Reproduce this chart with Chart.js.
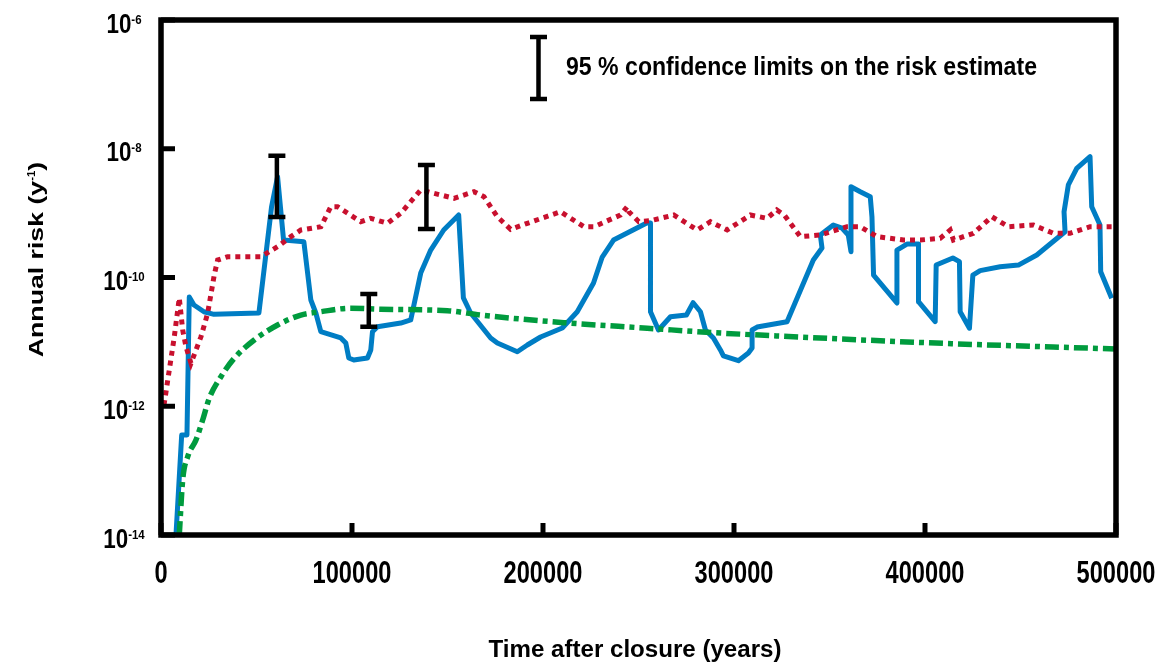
<!DOCTYPE html>
<html>
<head>
<meta charset="utf-8">
<script src="https://cdn.jsdelivr.net/npm/chart.js@4.4.1/dist/chart.umd.min.js"></script>
<style>
html,body{margin:0;padding:0;background:#fff;}
#wrap{width:1162px;height:668px;position:relative;}
</style>
</head>
<body>
<div id="wrap"><canvas id="c" width="1162" height="668"></canvas></div>
<script>
// ---- Data ----
const xTicks = [0, 100000, 200000, 300000, 400000, 500000];
const yTickExps = [-6, -8, -10, -12, -14];

// Calculated risk (solid blue)
const blueX = [7845, 10826, 13598, 14801, 17259, 22490, 27720, 51255, 57896, 61034, 64172, 74790, 78450, 81065, 83680, 94140, 96755, 98324, 100939, 108104, 109830, 110719, 113334, 125520, 130750, 135980, 141210, 148010, 155855, 158313, 162130, 172590, 176094, 186554, 191784, 198740, 210089, 217934, 226460, 231010, 236920, 254545, 256270, 256270, 260450, 266730, 275100, 278600, 282425, 285040, 289225, 292885, 294455, 302300, 307530, 309470, 309470, 312085, 327775, 341530, 346080, 345190, 352000, 356540, 359840, 361250, 361250, 366110, 371340, 372230, 373066, 385305, 385305, 390535, 396600, 396600, 405330, 405850, 414590, 418040, 418410, 423270, 425050, 428870, 439330, 448900, 458520, 473320, 472800, 475050, 479440, 486400, 487290, 491620, 491990, 497740];
const blueY = [1e-14, 3.57e-13, 3.57e-13, 4.98e-11, 3.74e-11, 2.94e-11, 2.68e-11, 2.81e-11, 1.26e-9, 3.68e-9, 3.82e-10, 3.60e-10, 4.47e-11, 2.81e-11, 1.44e-11, 1.15e-11, 9.6e-12, 5.62e-12, 5.23e-12, 5.62e-12, 7.48e-12, 1.44e-11, 1.72e-11, 1.96e-11, 2.19e-11, 1.17e-10, 2.67e-10, 5.47e-10, 9.35e-10, 4.81e-11, 2.81e-11, 1.15e-11, 9.6e-12, 7.03e-12, 8.94e-12, 1.19e-11, 1.64e-11, 2.94e-11, 8.22e-11, 2.08e-10, 3.82e-10, 7.10e-10, 7.03e-10, 2.94e-11, 1.53e-11, 2.46e-11, 2.61e-11, 4.06e-11, 2.94e-11, 1.53e-11, 1.15e-11, 7.48e-12, 6.04e-12, 5.1e-12, 6.71e-12, 8.03e-12, 1.53e-11, 1.70e-11, 2.06e-11, 1.87e-10, 2.87e-10, 4.57e-10, 6.54e-10, 5.87e-10, 4.57e-10, 2.52e-10, 2.57e-9, 2.15e-9, 1.80e-9, 8.79e-10, 1.09e-10, 4.02e-11, 2.67e-10, 3.31e-10, 3.31e-10, 4.21e-11, 2.06e-11, 1.56e-10, 2.01e-10, 1.76e-10, 2.94e-11, 1.63e-11, 1.09e-10, 1.28e-10, 1.47e-10, 1.56e-10, 2.24e-10, 5.14e-10, 1.05e-9, 2.74e-9, 4.97e-9, 7.53e-9, 1.26e-9, 6.54e-10, 1.23e-10, 4.75e-11];

// Red dotted curve
const redX = [1569, 6956, 9571, 11349, 13075, 15690, 20920, 24424, 27876, 29654, 34884, 52300, 61034, 67990, 73220, 83680, 88910, 92414, 104600, 109830, 118570, 125520, 135980, 142940, 153400, 163860, 169090, 176094, 183055, 191784, 209200, 221390, 226620, 240580, 244084, 244920, 250150, 256270, 268460, 280700, 287650, 296390, 308570, 317300, 322400, 326340, 334720, 345190, 359150, 366110, 374840, 388760, 397480, 407940, 413170, 414900, 425360, 434990, 443670, 456740, 467200, 475930, 486390, 497900];
const redY = [1.04e-12, 1.20e-11, 4.81e-11, 1.53e-11, 8.41e-12, 4.65e-12, 1.20e-11, 2.78e-11, 1.09e-10, 1.87e-10, 2.10e-10, 2.10e-10, 3.01e-10, 4.31e-10, 5.47e-10, 6.15e-10, 1.26e-9, 1.26e-9, 7.36e-10, 8.31e-10, 6.95e-10, 9.93e-10, 2.29e-9, 2.03e-9, 1.70e-9, 2.15e-9, 1.80e-9, 8.79e-10, 5.61e-10, 6.95e-10, 1.05e-9, 6.15e-10, 6.15e-10, 9.35e-10, 1.26e-9, 1.05e-9, 7.36e-10, 7.62e-10, 9.35e-10, 5.47e-10, 7.36e-10, 5.47e-10, 9.35e-10, 8.31e-10, 1.12e-9, 9.35e-10, 4.31e-10, 4.57e-10, 6.15e-10, 6.15e-10, 4.31e-10, 3.82e-10, 3.82e-10, 4.06e-10, 5.47e-10, 3.82e-10, 4.86e-10, 8.79e-10, 6.15e-10, 6.54e-10, 4.86e-10, 4.86e-10, 6.15e-10, 6.15e-10];

// Green dash-dot curve
const greenX = [9571, 11349, 13964, 18305, 21810, 25262, 31380, 38336, 48796, 61034, 73220, 83680, 99370, 115060, 149945, 167360, 210930, 254550, 289380, 324260, 401000, 500000];
const greenY = [1e-14, 7.14e-14, 1.64e-13, 2.99e-13, 6.11e-13, 1.33e-12, 2.88e-12, 5.56e-12, 1.07e-11, 1.83e-11, 2.61e-11, 2.94e-11, 3.33e-11, 3.21e-11, 3.05e-11, 2.61e-11, 1.99e-11, 1.63e-11, 1.39e-11, 1.23e-11, 9.7e-12, 7.74e-12];

// 95 % confidence limits
const errX = [60670, 138960, 108790];
const errLow = [8.71e-10, 5.66e-10, 1.72e-11];
const errHigh = [7.80e-9, 5.60e-9, 5.55e-11];

const legendText = '95 % confidence limits on the risk estimate';
const xTitle = 'Time after closure (years)';
const yTitleMain = 'Annual risk (y';
const yTitleSup = '-1';
const yTitleEnd = ')';

// ---- Helpers ----
const FONT = '"Liberation Sans", Arial, Helvetica, sans-serif';
function drawFit(ctx, s, x, y, size, sx, align) {
  ctx.save();
  ctx.font = 'bold ' + size + 'px ' + FONT;
  const w = ctx.measureText(s).width * sx;
  let x0 = x;
  if (align === 'center') x0 = x - w / 2;
  else if (align === 'right') x0 = x - w;
  ctx.translate(x0, y);
  ctx.scale(sx, 1);
  ctx.textAlign = 'left';
  ctx.textBaseline = 'alphabetic';
  ctx.fillStyle = '#000';
  ctx.fillText(s, 0, 0);
  ctx.restore();
  return w;
}
function measure(ctx, s, size, sx) {
  ctx.save();
  ctx.font = 'bold ' + size + 'px ' + FONT;
  const w = ctx.measureText(s).width * sx;
  ctx.restore();
  return w;
}
function sxFor(ctx, s, size, width) {
  return width / measure(ctx, s, size, 1);
}

const decor = {
  id: 'decor',
  afterDatasetsDraw(chart) {
    const ctx = chart.ctx;
    const xs = chart.scales.x, ys = chart.scales.y;
    ctx.save();
    ctx.strokeStyle = '#000';
    ctx.lineWidth = 4.5;
    ctx.lineCap = 'butt';
    for (let i = 0; i < errX.length; i++) {
      const px = xs.getPixelForValue(errX[i]);
      const pTop = ys.getPixelForValue(errHigh[i]);
      const pBot = ys.getPixelForValue(errLow[i]);
      ctx.beginPath();
      ctx.moveTo(px, pTop); ctx.lineTo(px, pBot);
      ctx.moveTo(px - 8.5, pTop); ctx.lineTo(px + 8.5, pTop);
      ctx.moveTo(px - 8.5, pBot); ctx.lineTo(px + 8.5, pBot);
      ctx.stroke();
    }
    ctx.restore();
  },
  afterDraw(chart) {
    const ctx = chart.ctx;
    const a = chart.chartArea;
    const xs = chart.scales.x, ys = chart.scales.y;
    ctx.save();
    // frame
    ctx.strokeStyle = '#000';
    ctx.lineWidth = 5.5;
    ctx.strokeRect(a.left, a.top, a.right - a.left, a.bottom - a.top);
    // y ticks (inward)
    ctx.lineWidth = 5;
    yTickExps.forEach(e => {
      const py = ys.getPixelForValue(Math.pow(10, e));
      ctx.beginPath(); ctx.moveTo(a.left, py); ctx.lineTo(a.left + 14, py); ctx.stroke();
      // label 10^e
      const base = '10', sup = String(e);
      const w1 = measure(ctx, base, 28, 0.8);
      const w2 = measure(ctx, sup, 13.5, 0.85);
      const x0 = 124 - (w1 + w2) / 2;
      drawFit(ctx, base, x0, py + 12.5, 28, 0.8, 'left');
      drawFit(ctx, sup, x0 + w1, py + 3.5, 13.5, 0.85, 'left');
    });
    // x ticks (inward)
    xTicks.forEach(v => {
      const px = xs.getPixelForValue(v);
      ctx.beginPath(); ctx.moveTo(px, a.bottom); ctx.lineTo(px, a.bottom - 12); ctx.stroke();
      drawFit(ctx, String(v), px, 583, 30.7, 0.77, 'center');
    });
    // x title
    drawFit(ctx, xTitle, 635, 657, 23.3, sxFor(ctx, xTitle, 23.3, 293), 'center');
    // y title (rotated)
    ctx.save();
    ctx.translate(43.3, 259.5);
    ctx.rotate(-Math.PI / 2);
    const ySx = 1.27;
    const wm = measure(ctx, yTitleMain, 21, ySx);
    const ws = measure(ctx, yTitleSup, 10, ySx * 0.9);
    const we = measure(ctx, yTitleEnd, 21, ySx);
    const tot = wm + ws + we;
    let cx = -tot / 2;
    drawFit(ctx, yTitleMain, cx, 0, 21, ySx, 'left'); cx += wm;
    drawFit(ctx, yTitleSup, cx, -8.3, 10, ySx * 0.9, 'left'); cx += ws;
    drawFit(ctx, yTitleEnd, cx, 0, 21, ySx, 'left');
    ctx.restore();
    // legend
    ctx.lineWidth = 4.5;
    ctx.beginPath();
    ctx.moveTo(538.5, 37); ctx.lineTo(538.5, 99);
    ctx.moveTo(530, 37); ctx.lineTo(547, 37);
    ctx.moveTo(530, 99); ctx.lineTo(547, 99);
    ctx.stroke();
    drawFit(ctx, legendText, 566, 75, 26.5, sxFor(ctx, legendText, 26.5, 471), 'left');
    ctx.restore();
  }
};

function pts(xa, ya) { return xa.map((x, i) => ({ x: x, y: ya[i] })); }

new Chart(document.getElementById('c'), {
  type: 'line',
  data: {
    datasets: [
      {
        label: 'Dose-based',
        data: pts(greenX, greenY),
        borderColor: 'rgb(0,155,62)',
        borderWidth: 5.5,
        borderDash: [14, 5, 5, 5],
        borderCapStyle: 'butt',
        pointRadius: 0,
        cubicInterpolationMode: 'monotone',
        fill: false,
        order: 1
      },
      {
        label: 'Red',
        data: pts(redX, redY),
        borderColor: 'rgb(200,16,46)',
        borderWidth: 5,
        borderDash: [5, 5],
        borderCapStyle: 'butt',
        pointRadius: 0,
        tension: 0,
        fill: false,
        order: 2
      },
      {
        label: 'Blue',
        data: pts(blueX, blueY),
        borderColor: 'rgb(0,125,196)',
        borderWidth: 5,
        borderJoinStyle: 'round',
        pointRadius: 0,
        tension: 0,
        fill: false,
        order: 3
      }
    ]
  },
  options: {
    responsive: false,
    animation: false,
    events: [],
    layout: { padding: { left: 161, right: 46, top: 20, bottom: 133 } },
    plugins: { legend: { display: false }, tooltip: { enabled: false }, title: { display: false } },
    scales: {
      x: { type: 'linear', min: 0, max: 500000, display: false },
      y: { type: 'logarithmic', min: 1e-14, max: 1e-6, display: false }
    }
  },
  plugins: [decor]
});
</script>
</body>
</html>
